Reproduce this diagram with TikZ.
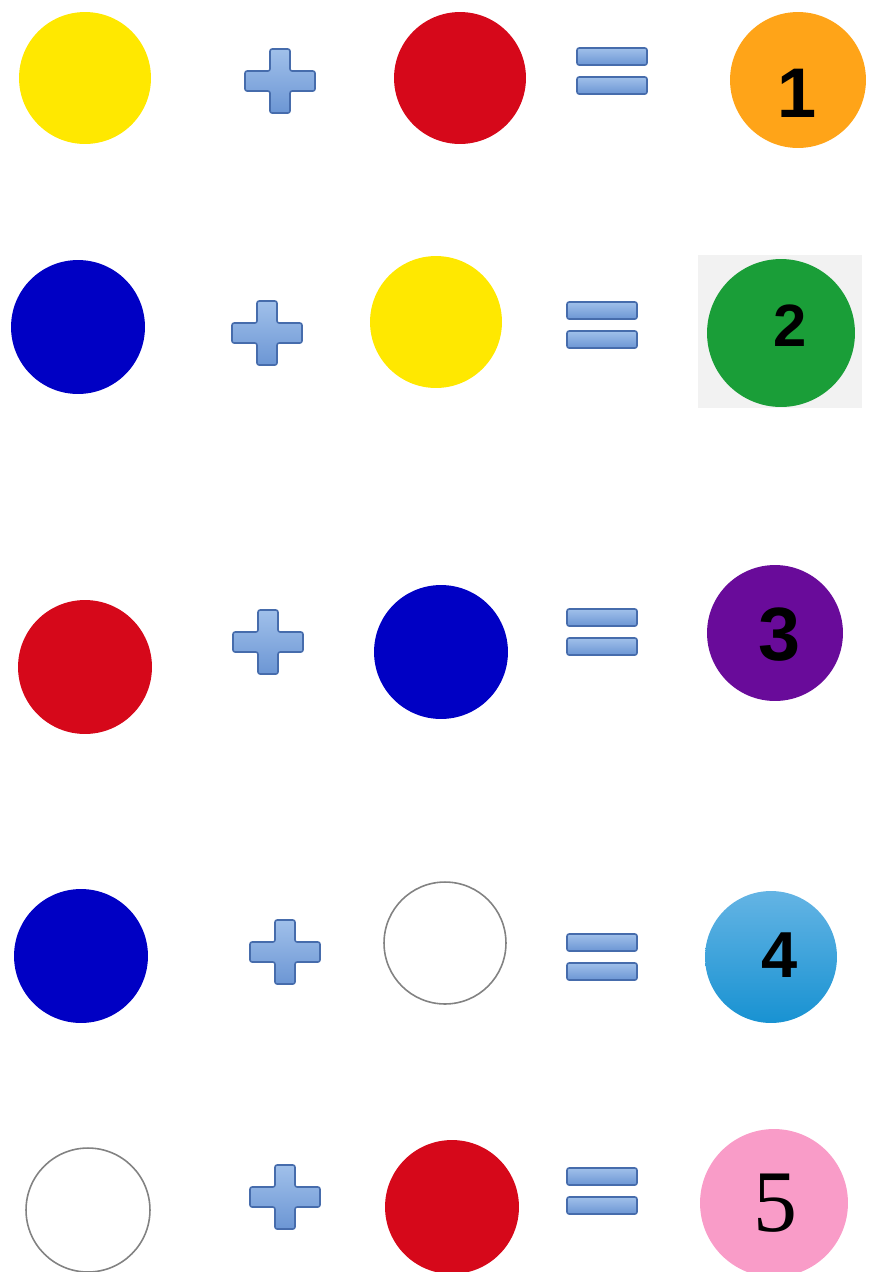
\documentclass[tikz,border=0pt]{standalone}
\usepackage{fontspec}
\setmainfont{Liberation Serif}
\setsansfont{Liberation Sans}
\usepackage{xcolor}
\definecolor{dotyellow}{RGB}{255,232,0}
\definecolor{dotred}{RGB}{214,8,26}
\definecolor{dotblue}{RGB}{0,0,196}
\definecolor{dotorange}{RGB}{255,164,24}
\definecolor{dotgreen}{RGB}{26,158,56}
\definecolor{dotpurple}{RGB}{105,11,154}
\definecolor{dotsky}{RGB}{100,180,228}
\definecolor{dotskydark}{RGB}{24,146,210}
\definecolor{dotpink}{RGB}{249,156,200}
\definecolor{signtop}{RGB}{160,192,234}
\definecolor{signbottom}{RGB}{108,150,212}
\definecolor{signrule}{RGB}{70,108,172}
\definecolor{rimgray}{RGB}{130,130,130}
\definecolor{tilegray}{RGB}{242,242,242}

\begin{document}
\begin{tikzpicture}[x=0.02cm,y=-0.02cm,
      dot/.style={circle,inner sep=0pt,minimum size=#1*0.04cm},
      ring/.style={dot=#1,draw=rimgray,line width=0.9pt,fill=white},
      sign/.style={top color=signtop,bottom color=signbottom,draw=signrule,line width=0.9pt,rounded corners=1.2pt},
      numb/.style={font=\fontsize{#1}{#1}\sffamily\bfseries,text=black,inner sep=0pt},
      plussign/.pic={\path[sign] (-10,-32) -- (10,-32) -- (10,-10) -- (35,-10) -- (35,10) -- (10,10)
        -- (10,32) -- (-10,32) -- (-10,10) -- (-35,10) -- (-35,-10) -- (-10,-10) -- cycle;},
      equalsign/.pic={\path[sign] (-35,-23) rectangle (35,-6);
        \path[sign] (-35,6) rectangle (35,23);}
    ]
    \useasboundingbox (0,0) rectangle (870,1272);
    \fill[tilegray] (698,255) rectangle (862,408);
    % row 1
    \node[dot=66,fill=dotyellow] (a1) at (85,78) {};
    \pic at (280,81) {plussign};
    \node[dot=66,fill=dotred] (b1) at (460,78) {};
    \pic at (612,71) {equalsign};
    \node[dot=68,fill=dotorange] (c1) at (798,80) {};
    \node[numb=40pt] (n1) at (797,93) {1};
    % row 2
    \node[dot=67,fill=dotblue] (a2) at (78,327) {};
    \pic at (267,333) {plussign};
    \node[dot=66,fill=dotyellow] (b2) at (436,322) {};
    \pic at (602,325) {equalsign};
    \node[dot=74,fill=dotgreen] (c2) at (781,333) {};
    \node[numb=34pt] (n2) at (790,326) {2};
    % row 3
    \node[dot=67,fill=dotred] (a3) at (85,667) {};
    \pic at (268,642) {plussign};
    \node[dot=67,fill=dotblue] (b3) at (441,652) {};
    \pic at (602,632) {equalsign};
    \node[dot=68,fill=dotpurple] (c3) at (775,633) {};
    \node[numb=43pt] (n3) at (780,635) {3};
    % row 4
    \node[dot=67,fill=dotblue] (a4) at (81,956) {};
    \pic at (285,952) {plussign};
    \node[ring=61] (b4) at (445,943) {};
    \pic at (602,957) {equalsign};
    \node[dot=66,top color=dotsky,bottom color=dotskydark] (c4) at (771,957) {};
    \node[numb=37pt] (n4) at (780,955) {4};
    % row 5
    \node[ring=62] (a5) at (88,1210) {};
    \pic at (285,1197) {plussign};
    \node[dot=67,fill=dotred] (b5) at (452,1207) {};
    \pic at (602,1191) {equalsign};
    \node[dot=74,fill=dotpink] (c5) at (774,1203) {};
    \node[font=\fontsize{50pt}{50pt}\rmfamily,inner sep=0pt] (n5) at (775,1203) {5};
  \end{tikzpicture}
\end{document}
